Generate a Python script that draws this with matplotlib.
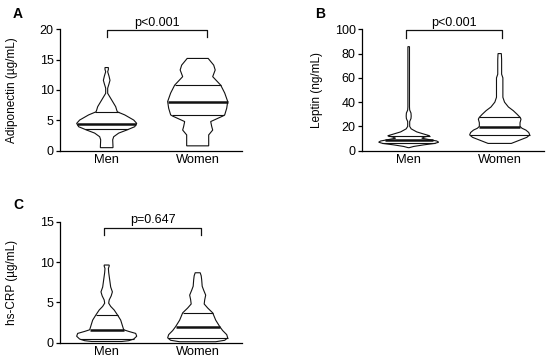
import numpy as np
import matplotlib
matplotlib.use("Agg")
import matplotlib.pyplot as plt

plt.rcParams['font.family'] = ['Liberation Sans', 'DejaVu Sans']

categories = ["Men", "Women"]

# Panel A: Adiponectin (µg/mL) -- violin outline profiles (value, relative width)
a_men_vals = [0.5, 0.7, 1.8, 2.3, 2.9, 3.4, 3.95, 4.5, 5.05, 5.9, 6.4, 6.7, 7.25, 8.35, 9.45, 10.3, 11.0, 11.6, 12.3, 13.0, 13.4, 13.7]
a_men_dens = [6.3, 6.3, 6, 7, 12, 20, 28, 30, 27, 18, 10.7, 10, 9, 5, 1, 1, 2.3, 3.3, 2.3, 1, 1.7, 1.7]
a_men_quart = [3.5, 4.4, 6.3]
a_women_vals = [0.8, 1.5, 2.6, 3.4, 4.0, 4.8, 5.7, 5.9, 7.0, 8.1, 9.5, 10.8, 12.2, 13.3, 14.1, 15.2]
a_women_dens = [11, 11, 11, 15, 14, 13, 25, 27, 29, 30, 27, 23, 15, 17.5, 16, 10.5]
a_women_quart = [5.8, 8.1, 10.8]

# Panel B: Leptin (ng/mL)
b_men_vals = [2.5, 3.5, 4.8, 6.0, 7.0, 8.0, 9.2, 10.3, 11.3, 12.3, 13.5, 15.5, 18.0, 20.0, 24.0, 26.5, 28.5, 31.0, 33.5, 36.0, 60.0, 85.7]
b_men_dens = [0.5, 5, 15, 26, 30, 28, 20, 13, 16, 21, 16, 8, 2.5, 1, 1, 2.3, 2.5, 2.3, 1, 0.8, 0.8, 0.8]
b_men_quart = [6.1, 8.6, 12.3]
b_women_vals = [6.0, 8.5, 11.0, 13.0, 15.0, 17.0, 18.5, 20.0, 23.0, 26.0, 27.5, 30.0, 33.0, 36.0, 40.0, 44.0, 50.0, 60.0, 63.0, 75.0, 80.0]
b_women_dens = [12, 20, 28, 31, 30, 27, 23, 21, 21, 22, 21, 18, 14, 9, 5, 3.3, 3.3, 3.3, 2, 2, 1.7]
b_women_quart = [12.9, 19.8, 27.5]

# Panel C: hs-CRP (µg/mL)
c_men_vals = [0.15, 0.25, 0.45, 0.8, 1.15, 1.4, 1.6, 2.0, 2.8, 3.4, 4.05, 4.5, 4.9, 5.3, 5.8, 6.3, 6.9, 7.8, 8.7, 9.2, 9.5, 9.63]
c_men_dens = [15, 22, 27, 30, 29, 22, 17, 16, 14, 11, 7.5, 4, 2, 2.5, 4.5, 5.7, 4, 3, 2, 1.7, 2.5, 2.5]
c_men_quart = [0.45, 1.6, 3.4]
c_women_vals = [0.12, 0.3, 0.6, 1.0, 1.5, 2.0, 2.8, 3.7, 4.3, 4.8, 5.3, 5.9, 6.5, 7.0, 7.8, 8.3, 8.67]
c_women_dens = [18, 27, 30, 29, 25, 22, 18, 15, 10, 6.5, 7, 8, 6, 4.5, 4, 3.5, 2.5]
c_women_quart = [0.6, 2.0, 3.7]

a_ticks = [0, 5, 10, 15, 20]
b_ticks = [0, 20, 40, 60, 80, 100]
c_ticks = [0, 5, 10, 15]

p_texts = ["p<0.001", "p<0.001", "p=0.647"]

MAX_HW = 0.33
W, H = 550, 363
fig = plt.figure(figsize=(5.5, 3.63), dpi=100)


def violin(ax, x, vals, dens, quart):
    vals = np.asarray(vals, float)
    hw = np.asarray(dens, float) / max(dens) * MAX_HW
    xs = np.concatenate([x - hw, (x + hw)[::-1]])
    ys = np.concatenate([vals, vals[::-1]])
    ax.fill(xs, ys, facecolor="white", edgecolor="#111111", lw=0.8, zorder=2)
    for i, q in enumerate(quart):
        w = np.interp(q, vals, hw)
        ax.plot([x - w, x + w], [q, q], color="#111111",
                lw=1.8 if i == 1 else 0.8, zorder=3, solid_capstyle="butt")


def panel(rect, letter, ylabel, ylim, ticks, data, ptxt, bx, by, ty, lab_x):
    ax = fig.add_axes(rect)
    for x, (v, d, q) in zip([1, 2], data):
        violin(ax, x, v, d, q)
    ax.set_xlim(0.487, 2.487)
    ax.set_ylim(*ylim)
    ax.set_yticks(ticks)
    ax.set_xticks([1, 2])
    ax.set_xticklabels(categories, fontsize=9.3)
    ax.tick_params(axis="x", length=0, pad=2.5)
    ax.tick_params(axis="y", length=3, width=0.9, pad=1.5, labelsize=9)
    for s in ["top", "right"]:
        ax.spines[s].set_visible(False)
    for s in ["left", "bottom"]:
        ax.spines[s].set_linewidth(0.9)
    ax.set_ylabel(ylabel, fontsize=8.5)
    ax.yaxis.set_label_coords(lab_x, 0.5)
    # bracket
    ax.plot([bx[0], bx[0], bx[1], bx[1]], [by[1], by[0], by[0], by[1]],
            color="#111111", lw=0.9, clip_on=False)
    ax.text((bx[0] + bx[1]) / 2, ty, ptxt, ha="center", va="baseline",
            fontsize=9, clip_on=False)
    return ax


def rect(l, r, t, b):
    return [l / W, 1 - b / H, (r - l) / W, (b - t) / H]


panel(rect(60, 242, 29.3, 150.7), "A", "Adiponectin (µg/mL)", (0, 20), a_ticks,
      [(a_men_vals, a_men_dens, a_men_quart), (a_women_vals, a_women_dens, a_women_quart)],
      p_texts[0], (1.0, 2.1), (19.9, 18.8), 20.5, -0.23)
panel(rect(362, 544, 29.3, 150.7), "B", "Leptin (ng/mL)", (0, 100), b_ticks,
      [(b_men_vals, b_men_dens, b_men_quart), (b_women_vals, b_women_dens, b_women_quart)],
      p_texts[1], (0.97, 2.02), (99.5, 92.5), 102.7, -0.214)
panel(rect(60, 242, 221.7, 342.7), "C", "hs-CRP (µg/mL)", (0, 15), c_ticks,
      [(c_men_vals, c_men_dens, c_men_quart), (c_women_vals, c_women_dens, c_women_quart)],
      p_texts[2], (0.97, 2.04), (14.25, 13.35), 14.87, -0.23)

for letter, (x, y) in zip(["A", "B", "C"], [(13, 18), (315, 18), (13, 209)]):
    fig.text(x / W, 1 - y / H, letter, fontsize=10, fontweight="bold",
             ha="left", va="baseline")

fig.savefig("out.png", dpi=100)
